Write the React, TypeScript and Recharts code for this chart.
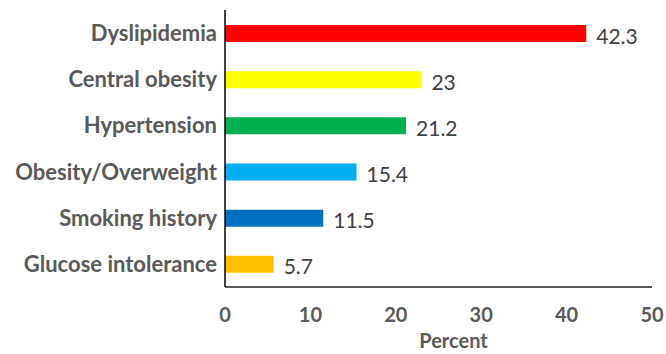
import React from 'react';
import { BarChart, Bar, XAxis, YAxis, Cell, LabelList } from 'recharts';

const categories = ['Dyslipidemia', 'Central obesity', 'Hypertension', 'Obesity/Overweight', 'Smoking history', 'Glucose intolerance'];
const values = [42.3, 23, 21.2, 15.4, 11.5, 5.7];
const barColors = ['#FF0000', '#FFFF00', '#00B050', '#00B0F0', '#0070C0', '#FFC000'];
const xTicks = [0, 10, 20, 30, 40, 50];

const data = categories.map((name, i) => ({ name, value: values[i], color: barColors[i] }));

const FONT = 'Lato, "Open Sans", sans-serif';

const CategoryTick = (props: any) => {
  const { x, y, payload } = props;
  return (
    <text x={x} y={y} dy={8} textAnchor="end" fill="#595959" fontFamily={FONT} fontWeight={700} fontSize={22}>
      {payload.value}
    </text>
  );
};

const PercentTick = (props: any) => {
  const { x, y, payload } = props;
  return (
    <text x={x} y={y} dy={27} textAnchor="middle" fill="#595959" fontFamily={FONT} fontWeight={700} fontSize={20}>
      {payload.value}
    </text>
  );
};

const ValueLabel = (props: any) => {
  const { x, y, width, height, value } = props;
  return (
    <text x={x + width + 10} y={y + height / 2} dy={10} textAnchor="start" fill="#404040" fontFamily={FONT} fontSize={21}>
      {value}
    </text>
  );
};

const App = () => {
  return (
    <div style={{ position: 'absolute', left: 0, top: 0, background: '#fff' }}>
      <BarChart
        width={666}
        height={354}
        data={data}
        layout="vertical"
        margin={{ top: 10, right: 14, bottom: 0, left: 0 }}
        barCategoryGap={0}
      >
        <XAxis
          type="number"
          domain={[0, 50]}
          ticks={xTicks}
          tick={<PercentTick />}
          tickLine={false}
          axisLine={{ stroke: '#595959', strokeWidth: 2 }}
          height={67}
          label={{ value: 'Percent', position: 'insideBottom', offset: 6, dx: 15, fill: '#595959', fontFamily: FONT, fontWeight: 700, fontSize: 20 }}
        />
        <YAxis
          type="category"
          dataKey="name"
          width={225}
          tick={<CategoryTick />}
          tickLine={false}
          axisLine={{ stroke: '#000000', strokeWidth: 1.5 }}
        />
        <Bar dataKey="value" barSize={17} isAnimationActive={false}>
          {data.map((d, i) => (
            <Cell key={`cell-${i}`} fill={d.color} />
          ))}
          <LabelList dataKey="value" content={<ValueLabel />} />
        </Bar>
      </BarChart>
    </div>
  );
};

export default App;
